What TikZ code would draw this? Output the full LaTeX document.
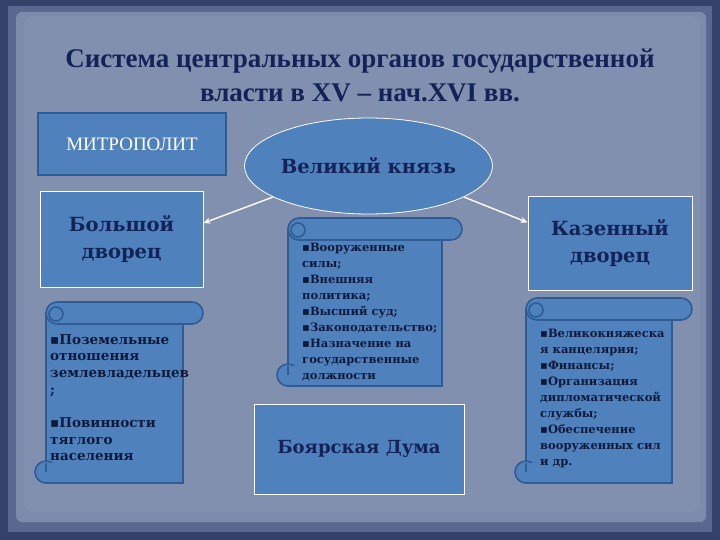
\documentclass[tikz,border=0pt]{standalone}
\usepackage{fontspec}
\setmainfont{DejaVu Serif}
\newfontfamily\titlefont{Liberation Serif}
\usepackage{tikz}
\usetikzlibrary{positioning}
\usetikzlibrary{shapes.geometric}
\usetikzlibrary{arrows.meta}

\definecolor{frameblue}{HTML}{34416A}
\definecolor{edgeblue}{HTML}{5A6890}
\definecolor{paper}{HTML}{8290B0}
\definecolor{boxblue}{HTML}{4F81BD}
\definecolor{rimblue}{HTML}{2F5C95}
\definecolor{inkblue}{HTML}{142357}
\definecolor{darkink}{HTML}{0E1A3C}

% scroll: x1, y1, x2, y2
\newcommand{\drawscroll}[4]{%
  \filldraw[scroll] (#1+11,#2+11) rectangle (#3-20,#4);
  \filldraw[scroll, rounded corners=10.9pt] (#1+11,#2) rectangle (#3,#2+22);
  \filldraw[scroll] (#1+21,#2+12) circle (7);
  \filldraw[scroll] (#1+11,#4-11) circle (11);
  \fill[boxblue] (#1+13,#4-20) rectangle (#1+30,#4-1);
  \draw[scroll] (#1+11,#4-20) -- (#1+11,#4-11);
}

\begin{document}
\begin{tikzpicture}[
                x=1pt, y=-1pt,
                box/.style = {
                    draw=white,
                    line width=0.8pt,
                    fill=boxblue,
                    text=inkblue,
                    align=center,
                    inner sep=0pt
                },
                scroll/.style = {
                    draw=rimblue,
                    fill=boxblue,
                    line width=1.6pt
                },
                list/.style = {
                    anchor=north west,
                    align=left,
                    text=darkink,
                    inner sep=0pt,
                    font=\bfseries\fontsize{11.5}{16}\selectfont
                },
                link/.style = {
                    draw=white,
                    line width=1.4pt,
                    -{Stealth[length=7pt,width=6pt]}
                }
            ]
            % background
            \useasboundingbox (0,0) rectangle (720,540);
            \fill[frameblue] (0,0) rectangle (720,540);
            \fill[edgeblue] (8,6) rectangle (712,532);
            \fill[paper!85!edgeblue, rounded corners=6pt] (16,12) rectangle (706,522);
            \fill[paper, rounded corners=8pt] (24,16) rectangle (700,512);
            %
            \node[text=inkblue, align=center,
                  font=\titlefont\bfseries\fontsize{27}{34}\selectfont]
                  (title) at (360,75) {Система центральных органов государственной\\власти в XV – нач.XVI вв.};
            %
            \node[box, draw=rimblue, line width=2pt, text=white,
                  minimum width=188pt, minimum height=62pt,
                  font=\titlefont\fontsize{19}{22}\selectfont] (metro) at (132,144) {МИТРОПОЛИТ};
            %
            \node[box, minimum width=163pt, minimum height=96pt,
                  font=\bfseries\fontsize{19.5}{27}\selectfont] (bolshoi) at (121.5,239) {Большой\\дворец};
            \node[box, ellipse, minimum width=245pt, minimum height=96pt,
                  font=\bfseries\fontsize{19.5}{26}\selectfont] (knyaz) at (368.5,166) {Великий князь};
            \node[box, minimum width=164pt, minimum height=94pt,
                  font=\bfseries\fontsize{19.5}{27}\selectfont] (kazna) at (610,243) {Казенный\\дворец};
            \node[box, minimum width=210pt, minimum height=90pt,
                  font=\bfseries\fontsize{18}{24}\selectfont] (duma) at (359,449) {Боярская Дума};
            %
            \draw[link] (knyaz.198) -- (bolshoi.11);
            \draw[link] (knyaz.342) -- (kazna.166);
            %
            \drawscroll{35}{302}{203}{483}
            \drawscroll{277}{218}{462}{386}
            \drawscroll{515}{298}{692}{483}
            %
            \node[list, font=\bfseries\fontsize{13.5}{16.8}\selectfont] (landlist) at (50,334)
                {▪Поземельные\\отношения\\землевладельцев\\;\\[16pt]▪Повинности\\тяглого\\населения};
            \node[list] (tsarlist) at (302,243)
                {▪Вооруженные\\силы;\\▪Внешняя\\политика;\\▪Высший суд;\\▪Законодательство;\\▪Назначение на\\государственные\\должности};
            \node[list] (treasurylist) at (540,329)
                {▪Великокняжеска\\я канцелярия;\\▪Финансы;\\▪Организация\\дипломатической\\службы;\\▪Обеспечение\\вооруженных сил\\и др.};
            %
        \end{tikzpicture}
\end{document}
